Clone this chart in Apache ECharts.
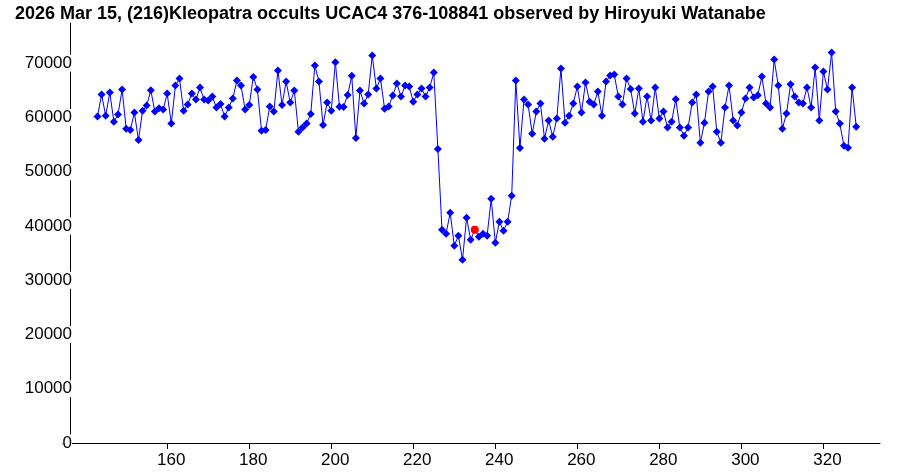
<!DOCTYPE html>
<html>
<head>
<meta charset="utf-8">
<title>Kleopatra occultation</title>
<script src="https://cdn.jsdelivr.net/npm/echarts@6/dist/echarts.min.js"></script>
<style>
    html, body { margin: 0; padding: 0; background: #fff; }
    #chart { width: 910px; height: 472px; }
</style>
</head>
<body>
<div id="chart"></div>
<script>
// frame numbers start here, one reading per frame
const firstFrame = 143;
// brightness readings
const brightness = [
    60150, 64210, 60330, 64580, 59220, 60520, 65130, 57930, 57690, 60890,
    55850, 61250, 62180, 65020, 61070, 61700, 61440, 64390, 58860, 65870,
    67160, 61250, 62360, 64390, 63280, 65500, 63280, 63100, 63840, 61810,
    62490, 60150, 61810, 63470, 66790, 65870, 61440, 62310, 67470, 65130,
    57560, 57690, 61990, 61070, 68630, 62310, 66600, 62730, 64940, 57380,
    58120, 58860, 60650, 69560, 66600, 58620, 62730, 61250, 70180, 61960,
    61940, 64150, 67660, 56220, 64940, 62550, 64210, 71400, 65310, 67160,
    61620, 61990, 64020, 66240, 63840, 65870, 65680, 62910, 64210, 65310,
    63840, 65500, 68270, 54200, 39300, 38560, 42440, 36350, 38190, 33760,
    41510, 37450, 39300, 38010, 38560, 38190, 45020, 36900, 40770, 39110,
    40770, 45570, 66790, 54370, 63280, 62360, 57010, 61070, 62550, 56090,
    59410, 56460, 59780, 69000, 59040, 60330, 62550, 65680, 60890, 66420,
    62910, 62360, 64760, 60330, 66600, 67710, 67900, 63840, 62360, 67160,
    65220, 60700, 65310, 59220, 63840, 59410, 65500, 59780, 61070, 58120,
    59220, 63360, 58120, 56640, 58120, 62730, 64210, 55350, 59040, 64760,
    65680, 57380, 55350, 61810, 65870, 59410, 58490, 60890, 63470, 65500,
    63650, 64100, 67530, 62550, 61810, 70660, 65870, 57930, 60700, 66120,
    63840, 62730, 62550, 65500, 61810, 69190, 59410, 68450, 65130, 71960,
    61070, 58860, 54800, 54430, 65500, 58300
];
// the one frame drawn in red
const markedFrame = 235;
const xTicks = [160, 180, 200, 220, 240, 260, 280, 300, 320];
const title = '2026 Mar 15, (216)Kleopatra occults UCAC4 376-108841 observed by Hiroyuki Watanabe';

const points = brightness.map((v, i) => {
    const f = firstFrame + i;
    if (f === markedFrame) {
        return {
            value: [f, v],
            symbol: 'circle',
            symbolSize: 8,
            itemStyle: { color: '#ff0000' }
        };
    }
    return [f, v];
});

const chart = echarts.init(document.getElementById('chart'), null, { renderer: 'canvas' });
chart.setOption({
    animation: false,
    backgroundColor: '#ffffff',
    textStyle: { fontFamily: 'Liberation Sans, Arial, sans-serif' },
    title: {
        text: title,
        left: 10,
        top: 0,
        textStyle: { fontSize: 18, fontWeight: 'bold', color: '#000' }
    },
    grid: { left: 70, right: 30, top: 23, bottom: 29, containLabel: false },
    xAxis: {
        type: 'value',
        min: 136.3,
        max: 333.8,
        splitLine: { show: false },
        axisLine: { onZero: false, lineStyle: { color: '#000', width: 1 } },
        axisTick: { show: true, length: 6, lineStyle: { color: '#000' }, customValues: xTicks },
        axisLabel: { customValues: xTicks, color: '#000', fontSize: 17, margin: 9, padding: [0, 0, 0, 8] }
    },
    yAxis: {
        type: 'value',
        min: 0,
        max: 77400,
        interval: 10000,
        splitLine: { show: false },
        axisLine: { show: true, lineStyle: { color: '#000', width: 1 } },
        axisTick: { show: true, length: 8, lineStyle: { color: '#000' } },
        axisLabel: {
            color: '#000', fontSize: 17, margin: -2,
            backgroundColor: '#fff',
            showMaxLabel: false,
            formatter: v => String(v)
        }
    },
    series: [{
        type: 'line',
        data: points,
        symbol: 'diamond',
        symbolSize: 8,
        color: '#0000ff',
        lineStyle: { color: '#0000ff', width: 1 },
        itemStyle: { color: '#0000ff' },
        z: 3
    }]
});
</script>
</body>
</html>
